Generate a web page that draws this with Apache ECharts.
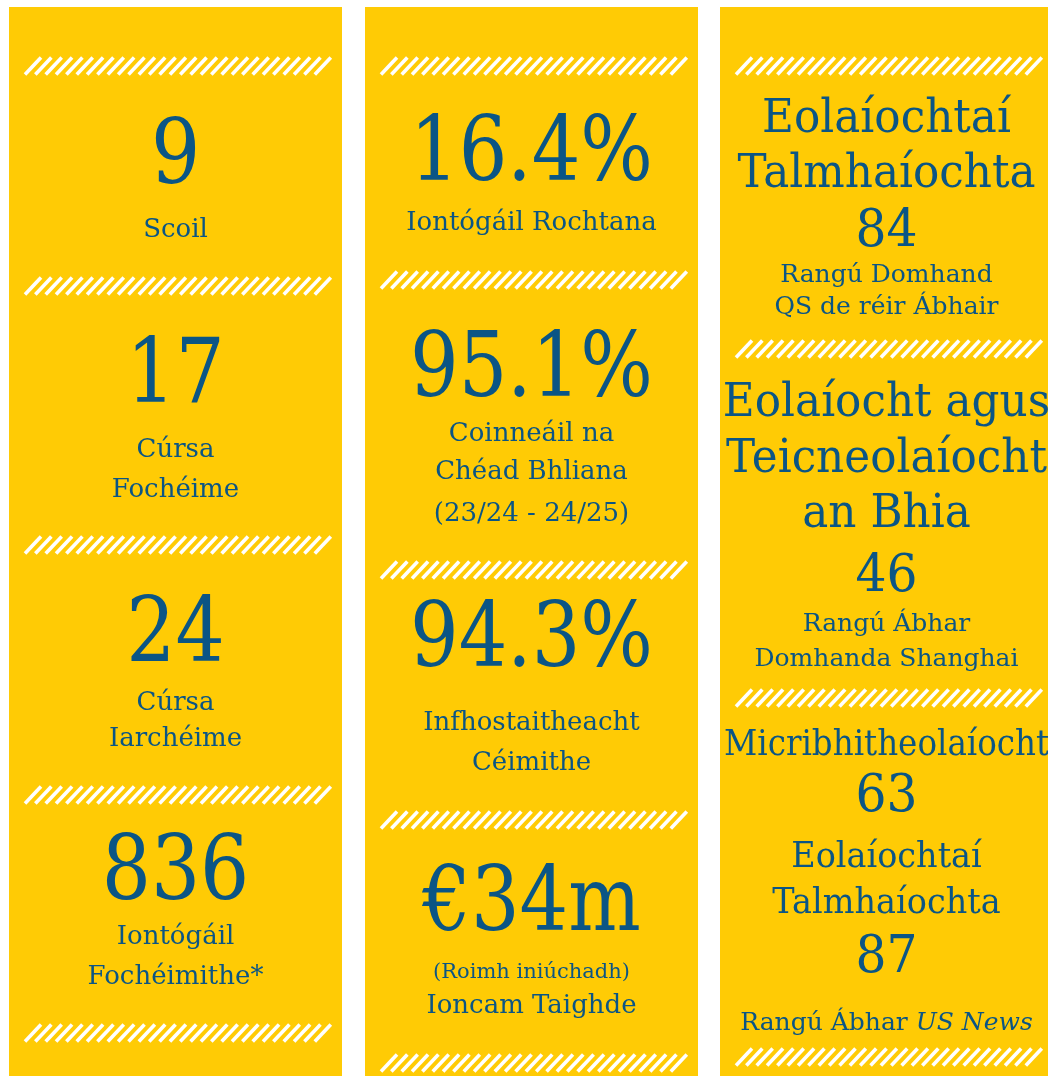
<!DOCTYPE html>
<html>
<head>
<meta charset="utf-8">
<title>Fíricí</title>
<script src="https://cdn.jsdelivr.net/npm/echarts@6/dist/echarts.min.js"></script>
<style>
html, body { margin: 0; padding: 0; background: #fff; }
#main { width: 1048px; height: 1076px; }
</style>
</head>
<body>
<div id="main"></div>
<script>
// colún 1
var col1Values = ['9', '17', '24', '836'];
var col1Labels = [['Scoil'], ['Cúrsa', 'Fochéime'], ['Cúrsa', 'Iarchéime'], ['Iontógáil', 'Fochéimithe*']];

// colún 2
var col2Values = ['16.4%', '95.1%', '94.3%', '€34m'];
var col2Labels = [['Iontógáil Rochtana'], ['Coinneáil na', 'Chéad Bhliana', '(23/24 - 24/25)'], ['Infhostaitheacht', 'Céimithe'], ['(Roimh iniúchadh)', 'Ioncam Taighde']];

// colún 3 - rangúcháin ábhair
var col3Subjects = [['Eolaíochtaí', 'Talmhaíochta'], ['Eolaíocht agus', 'Teicneolaíocht', 'an Bhia'], ['Micribhitheolaíocht'], ['Eolaíochtaí', 'Talmhaíochta']];
var col3Ranks = ['84', '46', '63', '87'];
var col3Sources = [['Rangú Domhand', 'QS de réir Ábhair'], ['Rangú Ábhar', 'Domhanda Shanghai'], [], ['Rangú Ábhar US News']];
var italicPart = 'US News';

// leagan amach (px)
var panelX = [9, 365, 720];
var panelW = 333;
var panelTop = 7;
var col1ValueY = [160, 379, 638, 876];
var col1LabelY = [[230], [450, 490], [703, 739], [937, 977]];
var col2ValueY = [157, 373, 643, 907];
var col2LabelY = [[223], [434, 472, 514], [723, 763], [973, 1006]];
var col2LabelSize = [[26], [26, 26, 26], [26, 26], [21, 26]];
var col3SubjectY = [[120, 175], [404, 460, 515], [746], [858, 904]];
var col3SubjectSize = [47, 47, 35, 36];
var col3RankY = [232, 577, 797, 958];
var col3SourceY = [[275, 307], [624, 659], [], [1023]];
var stripeY = [[66, 286, 545, 795, 1033], [66, 280, 570, 820, 1063], [66, 349, 698, 1057]];

var BLUE = '#0b5585';
var YELLOW = '#ffcb05';
var FONT = '"DejaVu Serif", serif';

var elements = [];

// thin: yellow outline drawn over the glyph so it looks lighter
function addText(cx, cy, text, size, scaleX, thin) {
	var rich = {
		i: { fontFamily: FONT, fontSize: size, fontStyle: 'italic', fill: BLUE }
	};
	if (text.indexOf(italicPart) >= 0) {
		text = text.replace(italicPart, '{i|' + italicPart + '}');
	}
	var style = {
		text: text,
		x: 0,
		y: 0,
		align: 'center',
		verticalAlign: 'middle',
		textAlign: 'center',
		textVerticalAlign: 'middle',
		fontFamily: FONT,
		fontSize: size,
		fill: BLUE,
		rich: rich
	};
	if (thin) {
		style.stroke = YELLOW;
		style.lineWidth = thin;
		style.strokeFirst = false;
	}
	elements.push({
		type: 'text',
		x: cx,
		y: cy,
		scaleX: scaleX || 1,
		silent: true,
		style: style
	});
}

// painéil bhuí
panelX.forEach(function (x) {
	elements.push({
		type: 'rect',
		silent: true,
		shape: { x: x, y: panelTop, width: panelW, height: 1100 },
		style: { fill: YELLOW }
	});
});

// stríocaí bána
stripeY.forEach(function (ys, p) {
	var x0 = panelX[p] + 16;
	var x1 = panelX[p] + panelW - 15;
	var step = 10.35;
	var n = Math.round((x1 - x0 - 16) / step) + 1;
	ys.forEach(function (y) {
		for (var i = 0; i < n; i++) {
			var bx = x0 + i * step;
			elements.push({
				type: 'line',
				silent: true,
				shape: { x1: bx, y1: y + 8.5, x2: bx + 16, y2: y - 8.5 },
				style: { stroke: '#fff', lineWidth: 3.6 }
			});
		}
	});
});

var cx1 = panelX[0] + panelW / 2;
var cx2 = panelX[1] + panelW / 2;
var cx3 = panelX[2] + panelW / 2;

col1Values.forEach(function (v, i) {
	addText(cx1, col1ValueY[i], v, 90, 0.86, 3);
	col1Labels[i].forEach(function (t, j) {
		addText(cx1, col1LabelY[i][j], t, 26);
	});
});

col2Values.forEach(function (v, i) {
	addText(cx2, col2ValueY[i], v, 90, 0.85, 3);
	col2Labels[i].forEach(function (t, j) {
		addText(cx2, col2LabelY[i][j], t, col2LabelSize[i][j]);
	});
});

col3Ranks.forEach(function (r, i) {
	col3Subjects[i].forEach(function (t, j) {
		addText(cx3, col3SubjectY[i][j], t, col3SubjectSize[i], 0.93, 1.5);
	});
	addText(cx3, col3RankY[i], r, 53, 0.92, 1.8);
	col3Sources[i].forEach(function (t, j) {
		addText(cx3, col3SourceY[i][j], t, 25);
	});
});

var myChart = echarts.init(document.getElementById('main'));
myChart.setOption({
	backgroundColor: '#fff',
	animation: false,
	graphic: { elements: elements }
});
</script>
</body>
</html>
